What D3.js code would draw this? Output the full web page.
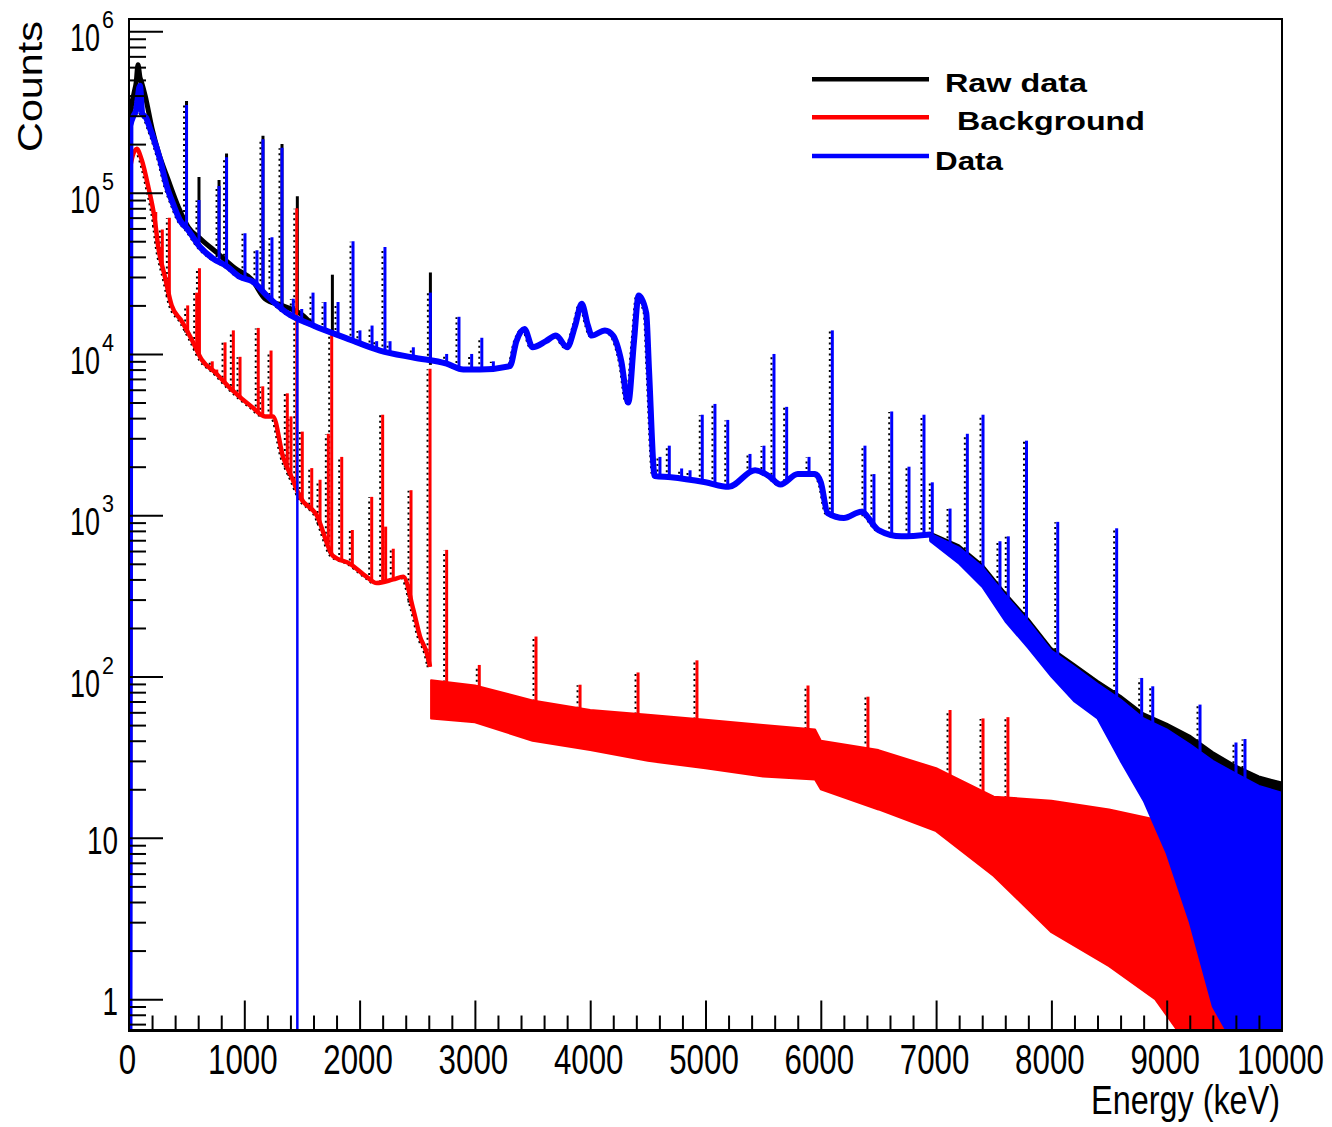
<!DOCTYPE html>
<html>
<head>
<meta charset="utf-8">
<script src="https://cdn.jsdelivr.net/npm/d3@7"></script>
<style>
  body { margin: 0; background: #fff; }
  text { font-family: "Liberation Sans", Arial, Helvetica, sans-serif; fill: #000; }
</style>
</head>
<body>
<script>
// ---- raw data (black) ----
const rawE = [4, 12, 45, 62, 78, 95, 110, 140, 200, 255, 340, 430, 515, 630, 770, 920, 1064, 1180, 1325, 1500, 1598];
const rawV = [0.5, 3.0e5, 4.2e5, 4.8e5, 6.2e5, 5.2e5, 4.8e5, 4.0e5, 2.5e5, 1.78e5, 1.2e5, 8.1e4, 6.1e4, 5.1e4, 4.2e4, 3.4e4, 2.9e4, 2.2e4, 2.0e4, 1.75e4, 1.5e4];
const rawBandE = [6950, 7200, 7400, 7600, 7800, 8000, 8200, 8400, 8600, 8800, 9000, 9200, 9400, 9600, 9800, 10000];
const rawBandHi = [780, 650, 495, 330, 228, 150, 119, 94, 76, 59, 51, 43, 34, 28, 24, 22];
const rawBandLo = [700, 560, 420, 280, 190, 125, 98, 76, 60, 46, 40, 33, 26, 21, 18, 16];
const rawPeakE = [499, 607, 781, 846, 1162, 1327, 1460, 1764, 2614];
const rawPeakH = [3.7e5, 1.25e5, 1.2e5, 1.75e5, 2.25e5, 2.0e5, 9.5e4, 3.1e4, 3.2e4];

// ---- background (red) ----
const bgE = [4, 15, 67, 110, 167, 225, 254, 312, 370, 457, 544, 631, 746, 891, 1064, 1180, 1249, 1336, 1422, 1483, 1628, 1769, 1917, 2062, 2148, 2292, 2379, 2466, 2524, 2582, 2611];
const bgV = [0.5, 1.5e5, 1.87e5, 1.6e5, 1.09e5, 6.7e4, 4.6e4, 3.0e4, 2.0e4, 1.6e4, 1.23e4, 9.2e3, 7.7e3, 6.0e3, 4.7e3, 4.1e3, 4.1e3, 2.3e3, 1.65e3, 1.3e3, 1.0e3, 560, 500, 415, 380, 400, 415, 260, 177, 140, 115];
const bgBandE = [2620, 3000, 3500, 4000, 4500, 5000, 5500, 5950, 6000, 6500, 7000, 7500, 8000, 8500, 8900, 9200, 9500, 9750, 10000];
const bgBandHi = [95, 88, 71, 62, 58, 54, 50, 47, 40, 35, 27, 18, 17, 15, 13, 8.4, 5.2, 3.2, 2.5];
const bgBandLo = [55, 52, 40, 35, 30, 27, 24, 23, 20, 15, 11, 5.8, 2.6, 1.6, 1.0, 0.5, 0.5, 0.5, 0.5];
const bgPeakE = [232, 289, 350, 509, 587, 611, 659, 722, 761, 833, 905, 963, 1121, 1160, 1232, 1373, 1405, 1455, 1503, 1585, 1657, 1729, 1758, 1845, 1937, 2105, 2200, 2226, 2292, 2446, 2611, 2755, 3038, 3530, 3912, 4415, 4926, 5889, 6409, 7121, 7407, 7623];
const bgPeakH = [7.6e4, 5.9e4, 7.0e4, 2.0e4, 2.4e4, 3.4e4, 8.8e3, 9.0e3, 8.0e3, 1.18e4, 1.4e4, 9.6e3, 1.45e4, 6.3e3, 1.05e4, 5.7e3, 4.1e3, 8.0e4, 3.3e3, 1.96e3, 1.66e3, 3.2e3, 1.35e4, 2.3e3, 810, 1.3e3, 4.2e3, 850, 620, 1.43e3, 8.1e3, 610, 118, 177, 89, 106, 126, 88, 75, 62, 55, 56];

// ---- data = raw - background (blue) ----
const dataE = [4, 12, 40, 60, 95, 115, 150, 182, 210, 270, 327, 383, 444, 502, 616, 729, 847, 963, 1076, 1195, 1368, 1598, 1888, 2177, 2466, 2755, 2900, 3044, 3304, 3360, 3430, 3500, 3616, 3703, 3800, 3870, 3926, 3980, 4013, 4128, 4198, 4270, 4330, 4380, 4420, 4486, 4510, 4560, 4700, 5000, 5200, 5430, 5550, 5650, 5800, 5950, 6000, 6060, 6200, 6350, 6500, 6700, 6950];
const dataV = [0.5, 2.6e5, 3.0e5, 3.2e5, 4.6e5, 3.1e5, 2.9e5, 2.5e5, 2.2e5, 1.6e5, 1.1e5, 8.5e4, 6.7e4, 6.0e4, 4.6e4, 3.9e4, 3.5e4, 3.0e4, 2.8e4, 2.3e4, 1.8e4, 1.5e4, 1.25e4, 1.05e4, 9.5e3, 8.7e3, 8.0e3, 8.0e3, 8.4e3, 1.2e4, 1.43e4, 1.1e4, 1.2e4, 1.3e4, 1.1e4, 1.5e4, 2.05e4, 1.5e4, 1.3e4, 1.4e4, 1.3e4, 9e3, 5e3, 1.2e4, 2.3e4, 1.8e4, 8e3, 1.75e3, 1.72e3, 1.6e3, 1.5e3, 1.9e3, 1.75e3, 1.55e3, 1.8e3, 1.8e3, 1.6e3, 1.03e3, 960, 1.05e3, 810, 740, 760];
const dataBandE = [6950, 7200, 7400, 7600, 7800, 8000, 8200, 8400, 8600, 8800, 9000, 9200, 9400, 9600, 9800, 10000];
const dataBandHi = [770, 630, 480, 320, 220, 145, 115, 90, 72, 55, 47, 38, 30, 25, 21, 19];
const dataBandLo = [690, 500, 360, 220, 150, 100, 70, 55, 30, 17, 8, 3, 0.9, 0.5, 0.5, 0.5];
const dataPeakE = [499, 607, 781, 846, 1006, 1110, 1162, 1240, 1327, 1425, 1498, 1596, 1700, 1813, 1943, 2003, 2108, 2148, 2220, 2264, 2466, 2614, 2755, 2862, 2972, 3060, 3160, 4605, 4686, 4793, 4866, 4972, 5082, 5193, 5386, 5507, 5594, 5704, 5898, 6100, 6383, 6461, 6615, 6765, 6895, 6967, 7121, 7271, 7407, 7554, 7626, 7784, 8055, 8566, 8783, 8879, 9289, 9601, 9679];
const dataPeakH = [3.5e5, 9.0e4, 1.1e5, 1.66e5, 5.6e4, 4.4e4, 2.14e5, 5.3e4, 1.9e5, 2.2e4, 1.9e4, 2.4e4, 2.1e4, 2.1e4, 5.0e4, 1.4e4, 1.5e4, 1.2e4, 4.6e4, 1.2e4, 1.1e4, 2.4e4, 1.0e4, 1.7e4, 1.0e4, 1.26e4, 9.0e3, 2.3e3, 2.7e3, 1.95e3, 1.9e3, 4.2e3, 4.9e3, 3.9e3, 2.4e3, 2.7e3, 1.0e4, 4.7e3, 2.3e3, 1.4e4, 2.7e3, 1.8e3, 4.4e3, 2.0e3, 4.2e3, 1.6e3, 1.1e3, 3.2e3, 4.2e3, 690, 740, 2.9e3, 910, 830, 98, 87, 67, 39, 41];
const dataDipE = [1460];

// ---- axes ----
const xTicks = [0, 1000, 2000, 3000, 4000, 5000, 6000, 7000, 8000, 9000, 10000];
const xTickLabels = ["0", "1000", "2000", "3000", "4000", "5000", "6000", "7000", "8000", "9000", "10000"];
const yPowers = [2, 3, 4, 5, 6];
const yPlain = [1, 10];

const legendLabels = ["Raw data", "Background", "Data"];
const legendColors = ["#000000", "#ff0000", "#0000ff"];

const W = 1332, H = 1127;
const frame = {left: 129, right: 1282, top: 19, bottom: 1030.5};

const x = d3.scaleLinear().domain([0, 10000]).range([frame.left, frame.right]);
const y = d3.scaleLog().domain([0.639, 1.193e6]).range([frame.bottom, frame.top]);

const svg = d3.select("body")
  .append("svg")
  .attr("width", W)
  .attr("height", H);

svg.append("defs").append("clipPath").attr("id", "clip")
  .append("rect")
  .attr("x", frame.left).attr("y", frame.top)
  .attr("width", frame.right - frame.left)
  .attr("height", frame.bottom - frame.top);

const plot = svg.append("g").attr("clip-path", "url(#clip)");

const pts = (es, vs) => es.map((e, i) => [e, vs[i]]);
const line = d3.line().x(d => x(d[0])).y(d => y(d[1])).curve(d3.curveMonotoneX);
const band = d3.area().x(d => x(d[0])).y0(d => y(d[1])).y1(d => y(d[2]));

// level of the continuum under a peak (log interpolation between neighbours)
function baseAt(e, es, vs) {
  const i = d3.bisectLeft(es, e);
  if (i <= 0) return vs[0];
  if (i >= es.length) return vs[vs.length - 1];
  const t = (e - es[i - 1]) / (es[i] - es[i - 1]);
  return Math.exp(Math.log(vs[i - 1]) * (1 - t) + Math.log(vs[i]) * t);
}

function drawSeries(o) {
  const g = plot.append("g");
  const baseE = o.E.concat(o.bandE), baseV = o.V.concat(o.bandHi);
  const spikes = o.peakE.map((e, i) => ({e: e, h: o.peakH[i], b: baseAt(e, baseE, baseV)}));

  if (o.shadow) {
    const s = g.append("g")
      .attr("transform", "translate(-2.5,0.5)")
      .attr("stroke", "#000")
      .attr("stroke-width", 2)
      .attr("stroke-dasharray", "2,3.5")
      .attr("fill", "none");
    s.append("path").attr("d", line(pts(o.E, o.V)));
    s.selectAll("line").data(spikes).join("line")
      .attr("x1", d => x(d.e)).attr("x2", d => x(d.e))
      .attr("y1", d => y(d.b)).attr("y2", d => y(d.h));
  }

  g.append("path")
    .datum(o.bandE.map((e, i) => [e, o.bandLo[i], o.bandHi[i]]))
    .attr("d", band)
    .attr("fill", o.color)
    .attr("stroke", o.color)
    .attr("stroke-width", 2)
    .attr("stroke-linejoin", "round");

  g.append("path")
    .attr("d", line(pts(o.E, o.V)))
    .attr("fill", "none")
    .attr("stroke", o.color)
    .attr("stroke-width", o.width)
    .attr("stroke-linejoin", "round");

  g.selectAll("line.spike").data(spikes).join("line")
    .attr("class", "spike")
    .attr("x1", d => x(d.e)).attr("x2", d => x(d.e))
    .attr("y1", d => y(d.b)).attr("y2", d => y(d.h))
    .attr("stroke", o.color)
    .attr("stroke-width", 3);

  if (o.dips) {
    g.selectAll("line.dip").data(o.dips).join("line")
      .attr("class", "dip")
      .attr("x1", d => x(d)).attr("x2", d => x(d))
      .attr("y1", d => y(baseAt(d, baseE, baseV))).attr("y2", frame.bottom + 5)
      .attr("stroke", o.color)
      .attr("stroke-width", 2.5);
  }
}

drawSeries({E: rawE, V: rawV, bandE: rawBandE, bandHi: rawBandHi, bandLo: rawBandLo,
  peakE: rawPeakE, peakH: rawPeakH, color: "#000000", width: 5, shadow: false});
drawSeries({E: bgE, V: bgV, bandE: bgBandE, bandHi: bgBandHi, bandLo: bgBandLo,
  peakE: bgPeakE, peakH: bgPeakH, color: "#ff0000", width: 4.5, shadow: true});
drawSeries({E: dataE, V: dataV, bandE: dataBandE, bandHi: dataBandHi, bandLo: dataBandLo,
  peakE: dataPeakE, peakH: dataPeakH, color: "#0000ff", width: 6, shadow: true, dips: dataDipE});

// frame
svg.append("rect")
  .attr("x", frame.left).attr("y", frame.top)
  .attr("width", frame.right - frame.left)
  .attr("height", frame.bottom - frame.top)
  .attr("fill", "none")
  .attr("stroke", "#000")
  .attr("stroke-width", 2);
svg.append("line")
  .attr("x1", frame.left - 1).attr("x2", frame.right + 1)
  .attr("y1", frame.bottom).attr("y2", frame.bottom)
  .attr("stroke", "#000").attr("stroke-width", 3);

// ticks
const xMinor = d3.range(200, 10000, 200).filter(v => v % 1000 !== 0);
const yMajor = d3.range(0, 7).map(p => Math.pow(10, p));
const yMinor = [];
d3.range(-1, 7).forEach(p => {
  d3.range(2, 10).forEach(k => {
    const v = k * Math.pow(10, p);
    if (v > y.domain()[0] && v < y.domain()[1]) yMinor.push(v);
  });
});

function tickStyle(g) {
  g.select(".domain").remove();
  g.selectAll(".tick line").attr("stroke", "#000").attr("stroke-width", 2);
  g.selectAll(".tick text").remove();
}

svg.append("g").attr("transform", "translate(0," + frame.bottom + ")")
  .call(d3.axisBottom(x).tickValues(xTicks.slice(1, -1)).tickSize(-30)).call(tickStyle);
svg.append("g").attr("transform", "translate(0," + frame.bottom + ")")
  .call(d3.axisBottom(x).tickValues(xMinor).tickSize(-15)).call(tickStyle);
svg.append("g").attr("transform", "translate(" + frame.left + ",0)")
  .call(d3.axisLeft(y).tickValues(yMajor).tickSize(-34)).call(tickStyle);
svg.append("g").attr("transform", "translate(" + frame.left + ",0)")
  .call(d3.axisLeft(y).tickValues(yMinor).tickSize(-17)).call(tickStyle);

// text squeezed/stretched horizontally to the width it has in the picture
function fitText(str, px, py, size, width, anchor, opts) {
  opts = opts || {};
  const t = svg.append("text")
    .attr("x", 0).attr("y", 0)
    .attr("font-size", size)
    .attr("text-anchor", anchor)
    .text(str);
  if (opts.bold) t.attr("font-weight", "bold");
  const s = width / t.node().getComputedTextLength();
  t.attr("transform", "translate(" + px + "," + py + ")" + (opts.rotate ? " rotate(" + opts.rotate + ")" : "") + " scale(" + s + ",1)");
  return t;
}

// x tick labels
xTicks.forEach((v, i) => {
  fitText(xTickLabels[i], x(v) - 1.5, 1074, 42, 17.4 * xTickLabels[i].length, "middle");
});

// y tick labels
yPowers.forEach(p => {
  const ty = y(Math.pow(10, p));
  fitText("10", 100, ty + 20, 39, 30, "end");
  fitText(String(p), 102, ty - 3, 24, 12, "start");
});
yPlain.forEach(v => {
  const s = String(v);
  fitText(s, 118, y(v) + 16, 39, 15.5 * s.length, "end");
});

// axis titles
fitText("Energy (keV)", 1280, 1114, 40, 189, "end");
fitText("Counts", 42, 21, 35, 131, "end", {rotate: -90});

// legend
const legendY = [79.3, 117.3, 156];
const legendTextX = [945, 957, 935];
const legendTextY = [92, 130, 170];
const legendTextW = [142, 188, 68];
svg.append("g").selectAll("line").data(legendLabels).join("line")
  .attr("x1", 812).attr("x2", 929)
  .attr("y1", (d, i) => legendY[i]).attr("y2", (d, i) => legendY[i])
  .attr("stroke", (d, i) => legendColors[i])
  .attr("stroke-width", 4.5);
legendLabels.forEach((d, i) => {
  fitText(d, legendTextX[i], legendTextY[i], 26, legendTextW[i], "start", {bold: true});
});
</script>
</body>
</html>
